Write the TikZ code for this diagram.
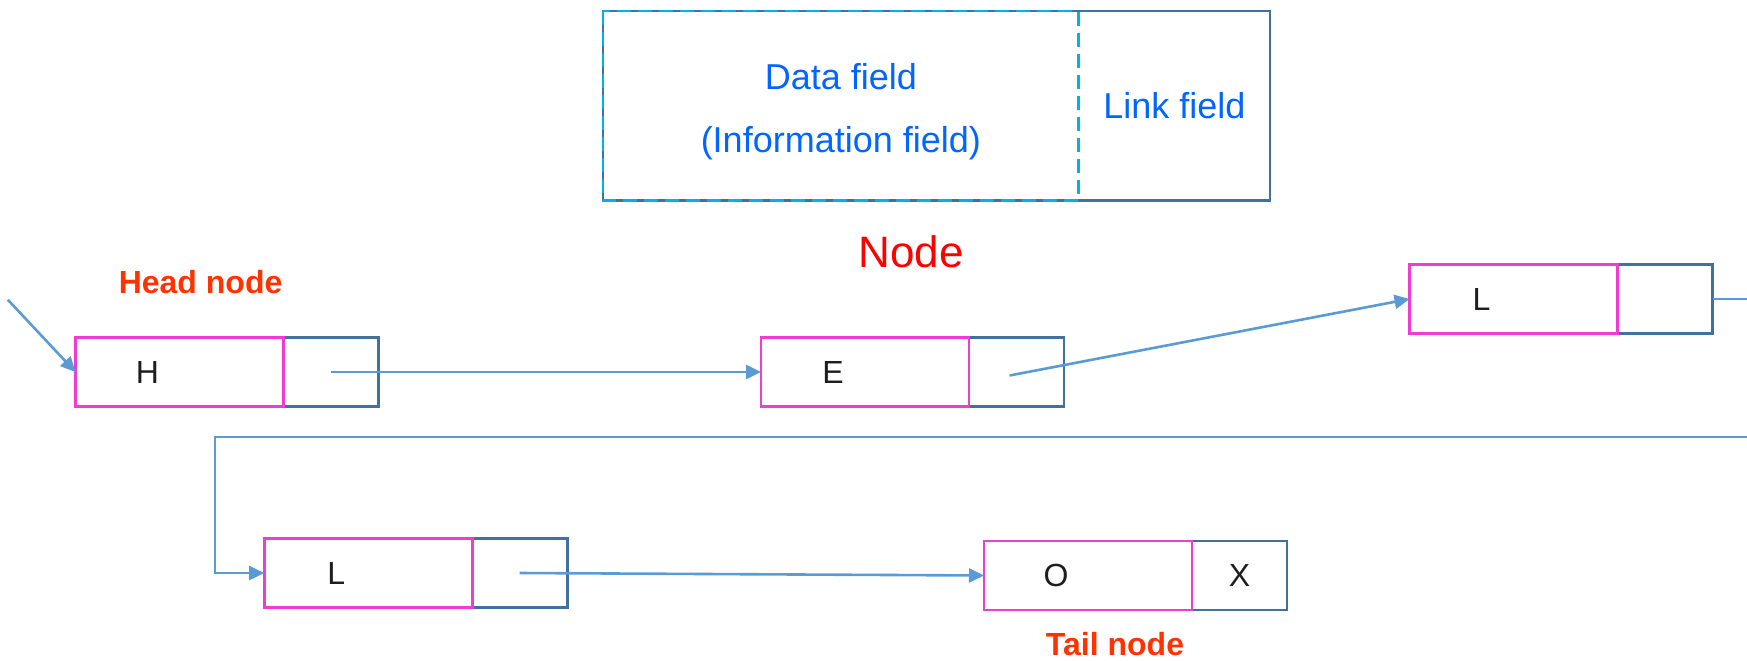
\documentclass[tikz,border=0pt]{standalone}
\usepackage{fontspec}
\setmainfont{Liberation Sans}
\usetikzlibrary{arrows.meta,positioning}

\definecolor{cellpink}{RGB}{240,60,210}
\definecolor{cellblue}{RGB}{65,113,156}
\definecolor{arrowblue}{RGB}{91,155,213}
\definecolor{dashcyan}{RGB}{0,176,240}
\definecolor{fieldtext}{RGB}{0,102,255}
\definecolor{endred}{RGB}{255,51,0}
\definecolor{letter}{RGB}{30,30,30}

\tikzset{
  cell/.style={rectangle, draw=cellblue, line width=1.3pt, outer sep=0pt, inner sep=0pt, minimum height=34.5pt},
  celltext/.style={text=letter, font=\fontsize{16}{16}\selectfont},
  datacell/.style={cell, draw=cellpink, minimum width=104pt, label={[celltext, xshift=-16pt]center:#1}},
  linkcell/.style={cell, celltext, minimum width=47.5pt},
  fieldbox/.style={rectangle, outer sep=0pt, inner sep=0pt, minimum height=94.8pt, text=fieldtext, font=\fontsize{18}{31.5}\selectfont},
  cellline/.style={draw=cellblue, line width=1.2pt},
  fieldline/.style={draw=dashcyan, line width=1.2pt, dash pattern=on 7pt off 3.5pt},
  endname/.style={text=endred, font=\bfseries\fontsize{16}{16}\selectfont},
  link/.style={color=arrowblue, line width=1.3pt, -{Triangle[length=7.5pt,width=7pt]}},
}

\begin{document}
\begin{tikzpicture}[x=0.5pt, y=-0.5pt]
    \useasboundingbox (0,0) rectangle (1747,660);

    % one node, split in its two fields
    \node[fieldbox, minimum width=95.7pt] at (1174.3,105.8) (linkfield) {Link field};
    \node[fieldbox, minimum width=237.8pt, left=0pt of linkfield,
          label={[fieldbox, minimum height=0pt, align=center, yshift=-2.8pt]center:{Data field\\(Information field)}}] (datafield) {};
    \draw[cellline] (datafield.north west) rectangle (linkfield.south east);
    \draw[fieldline] (datafield.north west) rectangle (datafield.south east);
    \node[text=red, font=\fontsize{22}{22}\selectfont] at (911,252) (nodename) {Node};

    % the list H E L L O
    \node[linkcell] at (331,372) (hlink) {};
    \node[datacell=H, left=0pt of hlink] (h) {};
    \node[linkcell] at (1016.5,372) (elink) {};
    \node[datacell=E, left=0pt of elink] (e) {};
    \node[linkcell] at (1665,299) (lonelink) {};
    \node[datacell=L, left=0pt of lonelink] (lone) {};
    \node[linkcell] at (519.7,573) (ltwolink) {};
    \node[datacell=L, left=0pt of ltwolink] (ltwo) {};
    \node[linkcell] at (1239.5,575.5) (olink) {X};
    \node[datacell=O, left=0pt of olink] (o) {};

    \node[endname] at (200.6,282) (headname) {Head node};
    \node[endname] at (1115,644) (tailname) {Tail node};

    \coordinate (start) at (7.8,299.7);
    \coordinate (wrapout) at (1747,299);
    \coordinate (wrapin) at (1747,437);
    \coordinate (turn) at (215,437);

    \path[link]
        (start) edge (h.west)
        (hlink.center) edge (e.west)
        ([shift={(-7,3.5)}]elink.center) edge (lone.west)
        (ltwolink.center) edge (o.west)
        ;
    \draw[link, -] (lonelink.east) -- (wrapout);
    \draw[link] (wrapin) -- (turn) |- (ltwo.west);
\end{tikzpicture}
\end{document}
